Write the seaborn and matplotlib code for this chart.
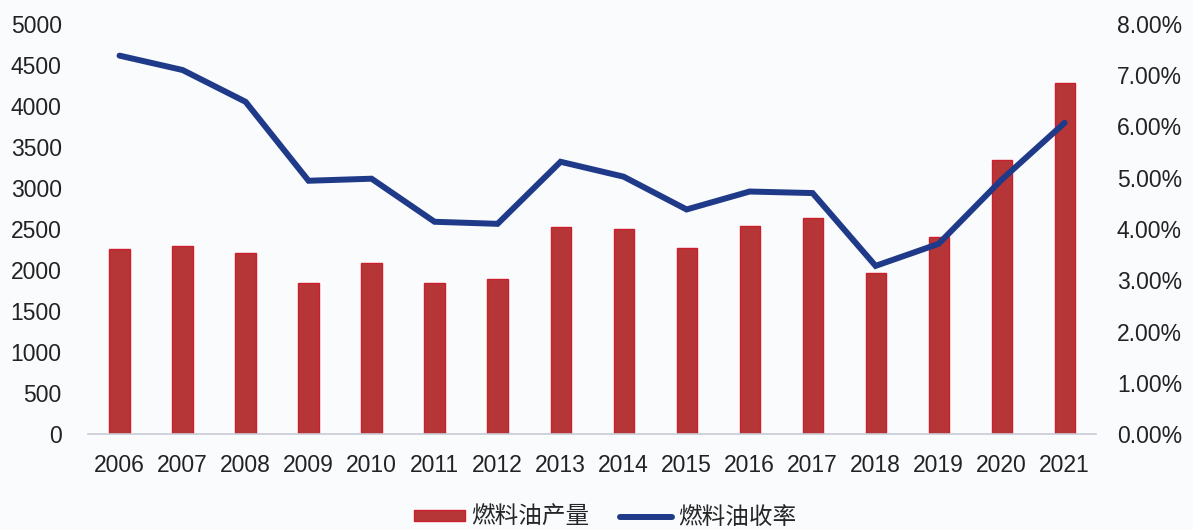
import matplotlib
matplotlib.use("Agg")
import matplotlib.pyplot as plt
import matplotlib.ticker as mticker
from matplotlib.patches import Patch
from matplotlib.lines import Line2D
import numpy as np
import pandas as pd
import seaborn as sns

# Fuel oil output (10k t) and fuel oil yield (%), 2006-2021
years = ["2006", "2007", "2008", "2009", "2010", "2011", "2012", "2013",
         "2014", "2015", "2016", "2017", "2018", "2019", "2020", "2021"]
output = [2252, 2293, 2211, 1838, 2089, 1838, 1894, 2520,
          2500, 2268, 2537, 2634, 1967, 2406, 3341, 4284]
yield_pct = [7.38, 7.10, 6.48, 4.94, 4.98, 4.14, 4.10, 5.31,
             5.02, 4.38, 4.73, 4.70, 3.28, 3.71, 4.96, 6.07]

bar_label = "燃料油产量"
line_label = "燃料油收率"

df = pd.DataFrame({"year": years, "output": output, "rate": yield_pct})
df["pos"] = np.arange(len(df))

sns.set_theme(style="white")
plt.rcParams["font.family"] = ["Liberation Sans", "Noto Sans CJK SC", "DejaVu Sans"]

bg = "#fafbfd"
bar_color = "#b63638"
bar_edge = "#cc1f2c"
line_color = "#1f3a88"

fig = plt.figure(figsize=(11.93, 5.30), dpi=100, facecolor=bg)
ax = fig.add_axes([0.0738, 0.181, 0.845, 0.774])
ax.set_facecolor(bg)

sns.barplot(data=df, x="year", y="output", ax=ax, color=bar_color,
            width=0.32, edgecolor=bar_edge, linewidth=1.0, saturation=1)
ax.set_xlim(-0.5, len(years) - 0.5)
ax.set_ylim(0, 5000)
ax.yaxis.set_major_locator(mticker.MultipleLocator(500))
ax.set_xlabel("")
ax.set_ylabel("")

ax2 = ax.twinx()
sns.lineplot(data=df, x="pos", y="rate", ax=ax2, color=line_color,
             linewidth=4.3, solid_joinstyle="miter")
ax2.set_ylim(0, 8)
ax2.yaxis.set_major_locator(mticker.MultipleLocator(1))
ax2.yaxis.set_major_formatter(mticker.FuncFormatter(lambda v, _: f"{v:.2f}%"))
ax2.set_xlabel("")
ax2.set_ylabel("")
ax2.set_xlim(-0.5, len(years) - 0.5)

for a in (ax, ax2):
    for s in a.spines.values():
        s.set_visible(False)
    a.grid(False)
ax.spines["bottom"].set_visible(True)
ax.spines["bottom"].set_color("#c9ccd6")
ax.spines["bottom"].set_linewidth(1.2)

tick_font = 16.5
ax.tick_params(axis="y", length=0, pad=19, labelsize=tick_font, labelcolor="#222222")
ax.tick_params(axis="x", length=0, pad=14, labelsize=tick_font, labelcolor="#222222")
ax2.tick_params(axis="y", length=0, pad=15, labelsize=tick_font, labelcolor="#222222")

handles = [Patch(facecolor=bar_color, edgecolor=bar_edge, label=bar_label),
           Line2D([0], [0], color=line_color, linewidth=4.3, label=line_label)]
fig.legend(handles=handles, loc="center", bbox_to_anchor=(0.507, 0.024),
           ncol=2, frameon=False, handlelength=2.2, handleheight=0.35,
           handletextpad=0.25, columnspacing=1.3,
           prop={"family": ["Noto Sans CJK SC", "DejaVu Sans"], "size": 17})

fig.savefig("out.png", dpi=100, facecolor=bg)
